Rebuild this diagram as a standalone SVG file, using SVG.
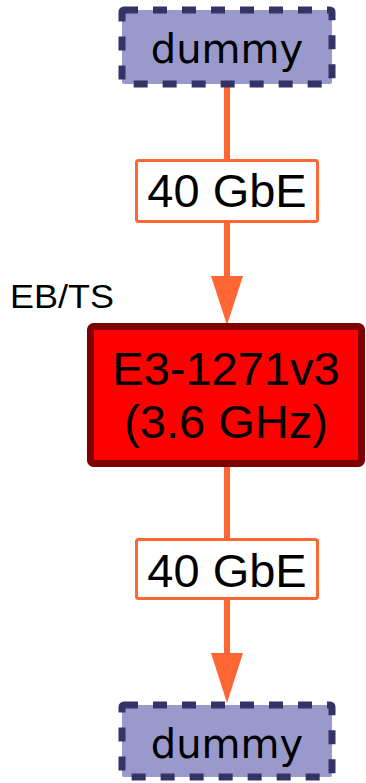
<svg xmlns="http://www.w3.org/2000/svg" width="366" height="783" viewBox="0 0 366 783">
<defs>
<style>
.dummy rect{fill:#9999cc;stroke:#333366;stroke-width:7;stroke-dasharray:14 15}
.dummy text{font-family:"DejaVu Sans",sans-serif;font-size:40px;fill:#000;text-anchor:middle}
.cpu rect{fill:#ff0000;stroke:#7f0000;stroke-width:7}
.cpu text{font-family:"Liberation Sans",Arial,sans-serif;font-size:47px;fill:#000;text-anchor:middle}
.edge line{stroke:#ff6633;stroke-width:6}
.edge polygon{fill:#ff6633}
.lbl rect{fill:#fff;stroke:#ff6633;stroke-width:3}
.lbl text{font-family:"Liberation Sans",Arial,sans-serif;font-size:47px;fill:#000;text-anchor:middle}
.note{font-family:"Liberation Sans",Arial,sans-serif;font-size:33px;fill:#000}
</style>
</defs>
<rect width="366" height="783" fill="#fff"/>
<g id="connectors" class="edge">
<line x1="227" y1="84" x2="227" y2="280"/>
<polygon points="211,276 243,276 227,325"/>
<line x1="227" y1="467" x2="227" y2="657"/>
<polygon points="211,653 243,653 227,703"/>
</g>
<g id="label1" class="lbl">
<rect x="136.5" y="160.5" width="181" height="61" rx="2"/>
<text x="227" y="207">40 GbE</text>
</g>
<g id="label2" class="lbl">
<rect x="136.5" y="539.5" width="181" height="59" rx="2"/>
<text x="227" y="587">40 GbE</text>
</g>
<g id="dummy-top" class="dummy">
<rect x="122" y="10" width="210" height="74" rx="2"/>
<text x="227" y="63">dummy</text>
</g>
<text id="ebts" class="note" x="10" y="308" textLength="104" lengthAdjust="spacingAndGlyphs">EB/TS</text>
<g id="cpu" class="cpu">
<rect x="90.5" y="326.5" width="271" height="137" rx="3"/>
<text x="226" y="385">E3-1271v3</text>
<text x="226" y="438">(3.6 GHz)</text>
</g>
<g id="dummy-bottom" class="dummy">
<rect x="122" y="705" width="210" height="72" rx="2"/>
<text x="227" y="758">dummy</text>
</g>
</svg>
